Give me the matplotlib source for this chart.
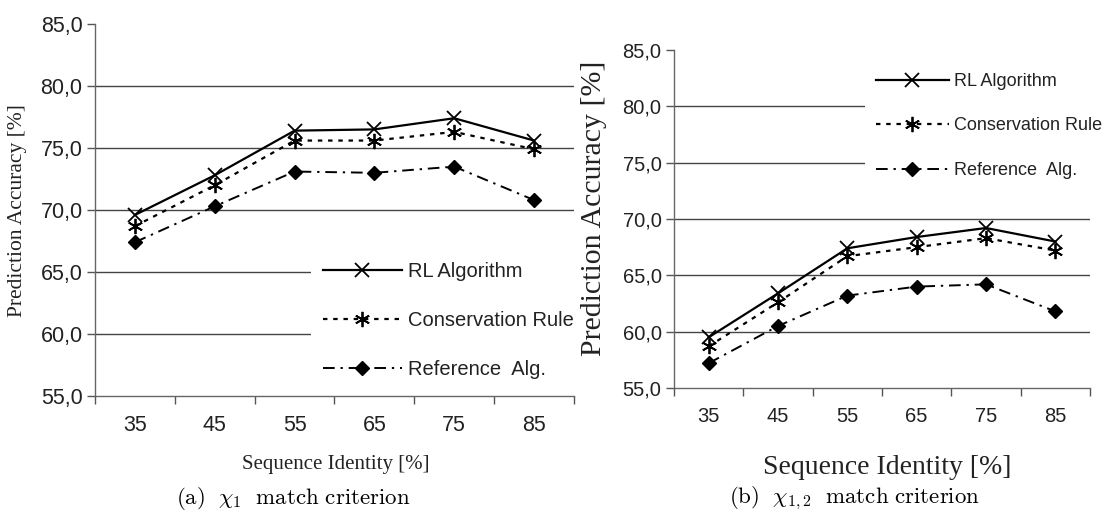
import numpy as np
import matplotlib
matplotlib.use("Agg")
import matplotlib.pyplot as plt
from matplotlib.ticker import FuncFormatter

plt.rcParams['mathtext.fontset'] = 'cm'

# ---------------- data ----------------
identity = ["35", "45", "55", "65", "75", "85"]
series_names = ["RL Algorithm", "Conservation Rule", "Reference  Alg."]

# (a) chi_1 match criterion
rl_a = [69.6, 72.8, 76.4, 76.5, 77.4, 75.6]
cons_a = [68.7, 72.0, 75.6, 75.6, 76.3, 74.9]
ref_a = [67.4, 70.3, 73.1, 73.0, 73.5, 70.8]

# (b) chi_{1,2} match criterion
rl_b = [59.5, 63.4, 67.4, 68.4, 69.2, 68.0]
cons_b = [58.7, 62.6, 66.7, 67.5, 68.3, 67.2]
ref_b = [57.2, 60.5, 63.2, 64.0, 64.2, 61.8]

y_ticks = [55, 60, 65, 70, 75, 80, 85]
captions = [r"$\mathrm{(a)}\ \ \chi_1\ \ \mathrm{match\ criterion}$",
            r"$\mathrm{(b)}\ \ \chi_{1,2}\ \ \mathrm{match\ criterion}$"]

# ---------------- styles ----------------
styles = [
    dict(color="black", lw=1.6, ls="-", marker="x", ms=10, mew=1.3),
    dict(color="black", lw=1.6, ls=(0, (2, 2.6)), marker=(6, 2, 0), ms=11, mew=1.3),
    dict(color="black", lw=1.4, ls=(0, (6, 3, 1.2, 3)), marker="D", ms=7.5, mew=1.0),
]

W, H = 1110, 518
fig = plt.figure(figsize=(W / 100, H / 100), dpi=100)


def px_axes(l, r, t, b):
    return fig.add_axes([l / W, (H - b) / H, (r - l) / W, (b - t) / H])


def setup(ax, data, tick_fs, lab_fs, ylab_xy, xlab_xy, leg_anchor, leg_fs, leg_spacing, hlen):
    x = np.arange(len(identity))
    for vals, st, name in zip(data, styles, series_names):
        ax.plot(x, vals, label=name, zorder=3, **st)
    ax.set_xlim(-0.5, len(identity) - 0.5)
    ax.set_ylim(55, 85)
    ax.set_yticks(y_ticks)
    ax.yaxis.set_major_formatter(FuncFormatter(lambda v, p: f"{v:.1f}".replace(".", ",")))
    ax.set_xticks(x)
    ax.set_xticklabels(identity)
    ax.set_xticks(np.arange(-0.5, len(identity), 1.0), minor=True)
    ax.tick_params(axis="x", which="major", length=0, pad=14, labelsize=tick_fs, labelcolor="#222")
    ax.tick_params(axis="x", which="minor", length=6, width=1.0, color="#555", direction="out")
    ax.tick_params(axis="y", length=6, width=1.0, color="#555", pad=3, labelsize=tick_fs, labelcolor="#222")
    for lab in ax.get_xticklabels() + ax.get_yticklabels():
        lab.set_fontfamily("Liberation Sans")
    for s in ["top", "right"]:
        ax.spines[s].set_visible(False)
    for s in ["left", "bottom"]:
        ax.spines[s].set_color("#666")
        ax.spines[s].set_linewidth(1.0)
    # grid lines at 60..80 (not at 85)
    ax.yaxis.grid(False)
    for yv in y_ticks[1:-1]:
        ax.axhline(yv, color="#444", lw=1.0, zorder=1)
    ax.set_ylabel("Prediction Accuracy [%]", fontfamily="Liberation Serif", fontsize=lab_fs[0],
                  va="center", ha="center", color="#222")
    ax.yaxis.set_label_coords(*ylab_xy)
    ax.set_xlabel("Sequence Identity [%]", fontfamily="Liberation Serif", fontsize=lab_fs[1],
                  va="center", ha="center", color="#222")
    ax.xaxis.set_label_coords(*xlab_xy)
    leg = ax.legend(loc="upper left", bbox_to_anchor=leg_anchor, frameon=True,
                    facecolor="white", edgecolor="none", framealpha=1.0, fancybox=False,
                    handlelength=hlen, handletextpad=0.3, labelspacing=leg_spacing,
                    borderpad=0.6, numpoints=1,
                    prop=dict(family="Liberation Sans", size=leg_fs))
    leg.set_zorder(5)
    for t in leg.get_texts():
        t.set_color("#222")
    return ax


# panel (a)
axa = px_axes(95, 574, 24, 396)
setup(axa, [rl_a, cons_a, ref_a], 15.5, (15.5, 15),
      ylab_xy=((17 - 95) / 479, (396 - 211) / 372),
      xlab_xy=((336 - 95) / 479, (396 - 465) / 372),
      leg_anchor=((301 - 95) / 479, (396 - 240) / 372), leg_fs=14.5, leg_spacing=1.48, hlen=3.9)

# panel (b)
axb = px_axes(674, 1090, 50, 388)
setup(axb, [rl_b, cons_b, ref_b], 14.5, (21.5, 20),
      ylab_xy=((594 - 674) / 416, (388 - 208) / 338),
      xlab_xy=((887 - 674) / 416, (388 - 467) / 338),
      leg_anchor=((856 - 674) / 416, (388 - 53) / 338), leg_fs=13, leg_spacing=1.53, hlen=4.05)

fig.text(293 / W, 1 - 498 / H, captions[0], ha="center", va="center", fontsize=16.5)
fig.text(855 / W, 1 - 498 / H, captions[1], ha="center", va="center", fontsize=16.5)

fig.savefig("out.png", dpi=100, facecolor="white")
